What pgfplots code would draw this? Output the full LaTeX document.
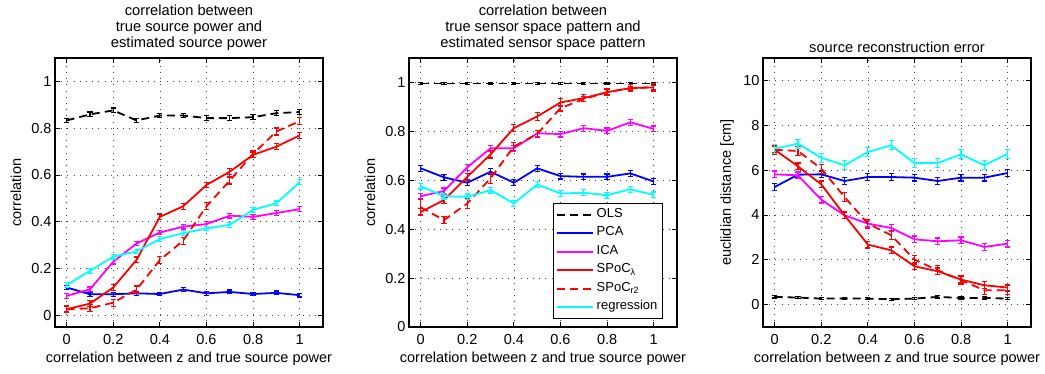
\documentclass[border=0pt]{standalone}
\usepackage{fontspec}
\setmainfont{Liberation Sans}
\usepackage{pgfplots}
\pgfplotsset{compat=1.18}
\definecolor{mblue}{rgb}{0,0,1}
\definecolor{mmag}{rgb}{1,0,1}
\definecolor{mred}{rgb}{1,0,0}
\definecolor{mcyan}{rgb}{0,1,1}
\pgfplotsset{
  panel/.style={
    scale only axis, width=268pt, height=269pt,
    anchor=south west,
    xmin=-0.05, xmax=1.1,
    xtick={0,0.2,0.4,0.6,0.8,1},
    grid=major,
    grid style={black!75, line width=0.6pt, dash pattern=on 0.7pt off 5.5pt},
    axis line style={line width=1.2pt},
    tick style={black, line width=0.8pt},
    major tick length=5pt,
    tick align=inside,
    /pgf/number format/assume math mode=true,
    every tick label/.append style={font=\fontsize{14.5}{16}\selectfont},
    xticklabel style={yshift=-4pt},
    label style={font=\fontsize{14.5}{16}\selectfont},
    xlabel={correlation between z and true source power},
    xlabel style={at={(axis description cs:0.5,0)}, anchor=north, yshift=-21pt},
    title style={font=\fontsize{14.7}{16}\selectfont, align=center,
                 at={(axis description cs:0.5,1)}, anchor=south, yshift=-2pt},
    ylabel style={at={(axis description cs:-0.1455,0.5)}, anchor=center},
    every axis plot/.append style={line width=1.8pt, mark=none,
        error bars/y dir=both,
        error bars/error bar style={line width=1.2pt, solid},
        error bars/error mark options={rotate=90, line width=1.2pt, mark size=2.6pt, solid}},
    legend image code/.code={\draw[#1] (0pt,0pt) -- (36pt,0pt);},
  },
  dashedline/.style={dash pattern=on 8pt off 5pt},
}
\begin{document}
\begin{tikzpicture}
\path[use as bounding box] (0,0) rectangle (1045pt,374pt);

% ---------- Panel 1 ----------
\begin{axis}[panel, at={(55pt,47pt)},
  ymin=-0.05, ymax=1.1, ytick={0,0.2,0.4,0.6,0.8,1},
  ylabel={correlation},
  title={correlation between\\true source power and\\estimated source power}]
\addplot[black, dashedline, error bars/y fixed=0.01] coordinates {
 (0,0.833) (0.1,0.859) (0.2,0.876) (0.3,0.833) (0.4,0.854) (0.5,0.854)
 (0.6,0.843) (0.7,0.843) (0.8,0.847) (0.9,0.864) (1,0.869)};
\addplot[mblue, error bars/y fixed=0.008] coordinates {
 (0,0.119) (0.1,0.090) (0.2,0.090) (0.3,0.094) (0.4,0.091) (0.5,0.110)
 (0.6,0.094) (0.7,0.100) (0.8,0.091) (0.9,0.096) (1,0.086)};
\addplot[mmag, error bars/y fixed=0.01] coordinates {
 (0,0.083) (0.1,0.111) (0.2,0.229) (0.3,0.307) (0.4,0.354) (0.5,0.379)
 (0.6,0.390) (0.7,0.426) (0.8,0.421) (0.9,0.437) (1,0.454)};
\addplot[mred, error bars/y fixed=0.012] coordinates {
 (0,0.026) (0.1,0.050) (0.2,0.119) (0.3,0.237) (0.4,0.421) (0.5,0.466)
 (0.6,0.557) (0.7,0.614) (0.8,0.686) (0.9,0.721) (1,0.769)};
\addplot[mred, dashedline, error bars/y fixed=0.015] coordinates {
 (0,0.026) (0.1,0.030) (0.2,0.054) (0.3,0.110) (0.4,0.236) (0.5,0.319)
 (0.6,0.466) (0.7,0.576) (0.8,0.690) (0.9,0.786) (1,0.830)};
\addplot[mcyan, error bars/y fixed=0.01] coordinates {
 (0,0.129) (0.1,0.190) (0.2,0.251) (0.3,0.273) (0.4,0.326) (0.5,0.351)
 (0.6,0.371) (0.7,0.387) (0.8,0.451) (0.9,0.479) (1,0.569)};
\end{axis}

% ---------- Panel 2 ----------
\begin{axis}[panel, at={(409pt,47pt)},
  ymin=0, ymax=1.1, ytick={0,0.2,0.4,0.6,0.8,1},
  ylabel={correlation},
  title={correlation between\\true sensor space pattern and\\estimated sensor space pattern},
  legend style={at={(axis description cs:0.537,0.03)}, anchor=south west,
    draw=black, line width=1pt, fill=white,
    font=\fontsize{13}{15}\selectfont,
    nodes={inner sep=2.5pt, text height=9.5pt, text depth=4pt},
    row sep=0pt},
  legend cell align=left]
\addplot[black, dashedline, error bars/y fixed=0.004] coordinates {
 (0,0.996) (0.1,0.996) (0.2,0.996) (0.3,0.996) (0.4,0.996) (0.5,0.996)
 (0.6,0.996) (0.7,0.996) (0.8,0.996) (0.9,0.996) (1,0.996)};
\addlegendentry{OLS}
\addplot[mblue, error bars/y fixed=0.012] coordinates {
 (0,0.649) (0.1,0.612) (0.2,0.590) (0.3,0.635) (0.4,0.590) (0.5,0.649)
 (0.6,0.617) (0.7,0.614) (0.8,0.614) (0.9,0.628) (1,0.595)};
\addlegendentry{PCA}
\addplot[mmag, error bars/y fixed=0.012] coordinates {
 (0,0.535) (0.1,0.556) (0.2,0.653) (0.3,0.731) (0.4,0.731) (0.5,0.792)
 (0.6,0.789) (0.7,0.813) (0.8,0.802) (0.9,0.837) (1,0.810)};
\addlegendentry{ICA}
\addplot[mred, error bars/y fixed=0.015] coordinates {
 (0,0.470) (0.1,0.519) (0.2,0.614) (0.3,0.706) (0.4,0.813) (0.5,0.861)
 (0.6,0.918) (0.7,0.936) (0.8,0.960) (0.9,0.977) (1,0.980)};
\addlegendentry{SPoC\textsubscript{λ}}
\addplot[mred, dashedline, error bars/y explicit] coordinates {
 (0,0.490) +- (0,0.03) (0.1,0.437) +- (0,0.015) (0.2,0.505) +- (0,0.02)
 (0.3,0.608) +- (0,0.02) (0.4,0.738) +- (0,0.015) (0.5,0.789) +- (0,0.015)
 (0.6,0.895) +- (0,0.012) (0.7,0.932) +- (0,0.01) (0.8,0.960) +- (0,0.01)
 (0.9,0.977) +- (0,0.008) (1,0.980) +- (0,0.008)};
\addlegendentry{SPoC\textsubscript{r2}}
\addplot[mcyan, error bars/y fixed=0.012] coordinates {
 (0,0.576) (0.1,0.535) (0.2,0.532) (0.3,0.560) (0.4,0.505) (0.5,0.583)
 (0.6,0.546) (0.7,0.549) (0.8,0.539) (0.9,0.563) (1,0.540)};
\addlegendentry{regression}
\end{axis}

% ---------- Panel 3 ----------
\begin{axis}[panel, at={(763pt,47pt)},
  ymin=-1, ymax=11, ytick={0,2,4,6,8,10},
  ylabel={euclidian distance [cm]},
  ylabel style={at={(axis description cs:-0.134,0.5)}, anchor=center},
  title={source reconstruction error},
  title style={yshift=-2pt}]
\addplot[black, dashedline, error bars/y fixed=0.05] coordinates {
 (0,0.342) (0.1,0.312) (0.2,0.267) (0.3,0.267) (0.4,0.267) (0.5,0.238)
 (0.6,0.267) (0.7,0.342) (0.8,0.297) (0.9,0.297) (1,0.267)};
\addplot[mblue, error bars/y fixed=0.15] coordinates {
 (0,5.245) (0.1,5.795) (0.2,5.810) (0.3,5.513) (0.4,5.691) (0.5,5.691)
 (0.6,5.661) (0.7,5.513) (0.8,5.661) (0.9,5.661) (1,5.869)};
\addplot[mmag, error bars/y fixed=0.15] coordinates {
 (0,5.810) (0.1,5.765) (0.2,4.681) (0.3,3.982) (0.4,3.611) (0.5,3.418)
 (0.6,2.912) (0.7,2.823) (0.8,2.868) (0.9,2.571) (1,2.719)};
\addplot[mred, error bars/y fixed=0.15] coordinates {
 (0,6.909) (0.1,6.166) (0.2,5.364) (0.3,3.982) (0.4,2.675) (0.5,2.422)
 (0.6,1.709) (0.7,1.486) (0.8,1.114) (0.9,0.862) (1,0.758)};
\addplot[mred, dashedline, error bars/y fixed=0.2] coordinates {
 (0,6.909) (0.1,6.850) (0.2,6.062) (0.3,4.799) (0.4,3.611) (0.5,3.091)
 (0.6,2.006) (0.7,1.530) (0.8,1.085) (0.9,0.639) (1,0.639)};
\addplot[mcyan, error bars/y fixed=0.2] coordinates {
 (0,6.954) (0.1,7.177) (0.2,6.553) (0.3,6.211) (0.4,6.805) (0.5,7.103)
 (0.6,6.315) (0.7,6.315) (0.8,6.701) (0.9,6.211) (1,6.731)};
\end{axis}
\end{tikzpicture}
\end{document}
